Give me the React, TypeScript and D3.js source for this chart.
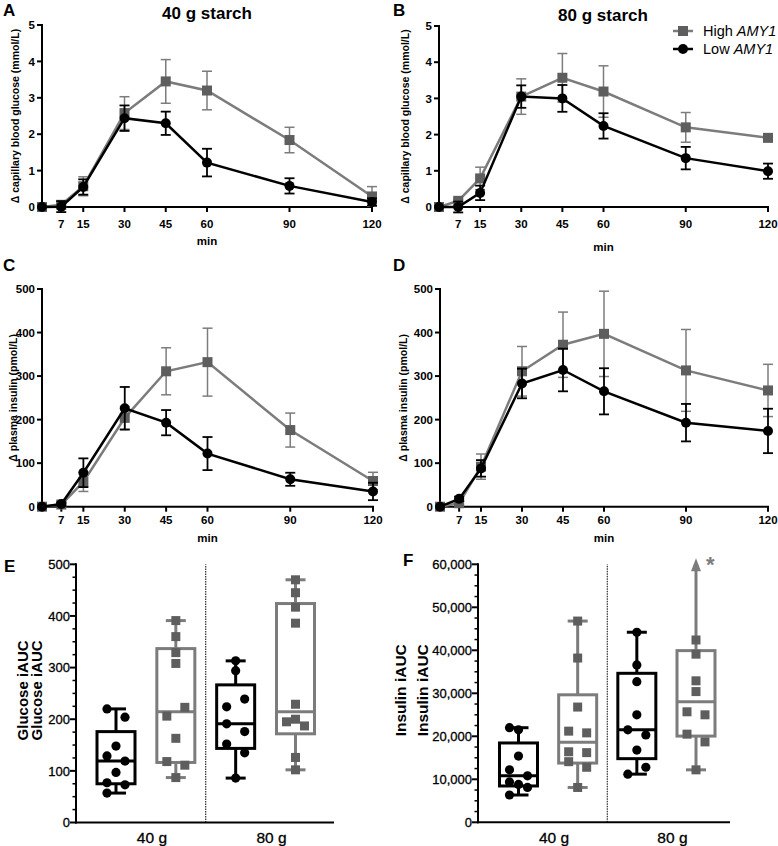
import React from 'react';
import * as d3 from 'd3';

// ---------- Data ----------
const times = [0, 7, 15, 30, 45, 60, 90, 120];
const timeTickLabels = [7, 15, 30, 45, 60, 90, 120];

// Panel A: 40 g starch, glucose (mmol/L)
const glu40High = [0, 0.06, 0.57, 2.58, 3.45, 3.2, 1.84, 0.29];
const glu40HighSem = [0, 0.04, 0.26, 0.45, 0.6, 0.53, 0.35, 0.27];
const glu40Low = [0, 0.01, 0.55, 2.44, 2.3, 1.22, 0.58, 0.14];
const glu40LowSem = [0, 0.15, 0.21, 0.35, 0.32, 0.38, 0.21, 0.1];

// Panel B: 80 g starch, glucose
const glu80High = [0, 0.17, 0.79, 3.05, 3.57, 3.19, 2.2, 1.91];
const glu80HighSem = [0, 0.04, 0.31, 0.49, 0.67, 0.71, 0.41, 0.05];
const glu80Low = [0, 0.0, 0.39, 3.05, 3.0, 2.24, 1.35, 0.99];
const glu80LowSem = [0, 0.15, 0.2, 0.31, 0.37, 0.35, 0.31, 0.21];

// Panel C: 40 g starch, insulin (pmol/L)
const ins40High = [0, 5, 57, 204, 311, 332, 176, 59];
const ins40HighSem = [0, 3, 22, 26, 54, 78, 39, 20];
const ins40Low = [0, 6, 78, 226, 193, 122, 63, 35];
const ins40LowSem = [0, 4, 33, 49, 29, 38, 15, 20];

// Panel D: 80 g starch, insulin
const ins80High = [0, 8, 92, 311, 372, 397, 313, 267];
const ins80HighSem = [0, 4, 29, 57, 75, 98, 94, 60];
const ins80Low = [0, 18, 88, 283, 314, 265, 193, 174];
const ins80LowSem = [0, 5, 19, 34, 49, 53, 43, 51];

// Panel E: glucose iAUC
const gluAucLow40 = [220, 204, 148, 129, 119, 97, 77, 73, 57];
const gluAucHigh40 = [391, 360, 329, 308, 223, 206, 163, 118, 111, 87];
const gluAucLow80 = [313, 294, 239, 224, 191, 176, 152, 135, 86];
const gluAucHigh80 = [470, 445, 417, 386, 229, 200, 195, 187, 126, 102];
const jitGluLow40 = [-1, 1, 0, -1, 1, 0, -1, 1, -1];
const jitGluHigh40 = [0, 0, 0, 0, 1, -1, 0, -1, 1, 0];
const jitGluLow80 = [0, 0, 1, -1, -1, 1, -1, 1, 0];
const jitGluHigh80 = [0, 0, 0, 0, 0, 0, -1, 1, 0, 0];

// Panel F: insulin iAUC (first High 80 g value is off-scale)
const insAucLow40 = [22000, 21500, 15400, 12200, 10800, 9400, 8800, 8100, 6350];
const insAucHigh40 = [46800, 38200, 26800, 21200, 20800, 16400, 16200, 14100, 12800, 8100];
const insAucLow80 = [44200, 36600, 32700, 25000, 21500, 20300, 16800, 12800, 11200];
const insAucHigh80 = [72000, 42400, 39100, 32900, 30400, 25700, 25000, 20500, 18700, 12200];
const jitInsLow40 = [-1, 0, 0, -1, 1, -1, 0, 1, -1];
const jitInsHigh40 = [0, 0, 0, -1, 1, -1, 1, -1, 1, 0];
const jitInsLow80 = [0, 0, 0, 0, -1, 1, 0, 1, -1];
const jitInsHigh80 = [0, 0, 0, 0, 0, -1, 1, -1, 1, 0];

const doseCategories = ['40 g', '80 g'];
const seriesNames = ['High', 'Low'];

// ---------- Style ----------
const FONT = '"Liberation Sans", Arial, Helvetica, sans-serif';
const GRAY_LINE = '#7c7c7c';
const GRAY_MARK = '#5e5e5e';
const BLACK = '#000';

type LineProps = {
  xr: [number, number];
  yr: [number, number];
  yMax: number;
  yTicks: number[];
  high: number[];
  highSem: number[];
  low: number[];
  lowSem: number[];
  yLabel: string;
  yLabelX: number;
  letter?: string;
  letterPos?: [number, number];
  title?: string;
  titlePos?: [number, number];
  minY: number;
  tickLabelY: number;
  legend?: boolean;
};

function LinePanel(p: LineProps) {
  const x = d3.scaleLinear().domain([0, 120]).range(p.xr);
  const y = d3.scaleLinear().domain([0, p.yMax]).range(p.yr);
  const line = d3
    .line<number>()
    .x((_, i) => x(times[i]))
    .y((d) => y(d));
  const cap = 5;
  const errBars = (vals: number[], sems: number[], color: string, w: number) =>
    vals.map((v, i) =>
      sems[i] > 0 ? (
        <g key={i} stroke={color} strokeWidth={w}>
          <line x1={x(times[i])} x2={x(times[i])} y1={y(v - sems[i])} y2={y(v + sems[i])} />
          <line x1={x(times[i]) - cap} x2={x(times[i]) + cap} y1={y(v + sems[i])} y2={y(v + sems[i])} />
          <line x1={x(times[i]) - cap} x2={x(times[i]) + cap} y1={y(v - sems[i])} y2={y(v - sems[i])} />
        </g>
      ) : null
    );
  const yMid = (p.yr[0] + p.yr[1]) / 2;
  return (
    <g fontFamily={FONT}>
      {p.letter && p.letterPos && (
        <text x={p.letterPos[0]} y={p.letterPos[1]} fontSize={17} fontWeight="bold">
          {p.letter}
        </text>
      )}
      {p.title && p.titlePos && (
        <text x={p.titlePos[0]} y={p.titlePos[1]} fontSize={17} fontWeight="bold" textAnchor="middle">
          {p.title}
        </text>
      )}
      {/* axes */}
      <line x1={p.xr[0]} x2={p.xr[0]} y1={p.yr[0] + 1} y2={p.yr[1] - 1} stroke={BLACK} strokeWidth={2} />
      <line x1={p.xr[0] - 1} x2={p.xr[1] + 1} y1={p.yr[0]} y2={p.yr[0]} stroke={BLACK} strokeWidth={2} />
      {p.yTicks.map((t) => (
        <g key={t}>
          <line x1={p.xr[0] - 5} x2={p.xr[0]} y1={y(t)} y2={y(t)} stroke={BLACK} strokeWidth={2} />
          <text x={p.xr[0] - 7} y={y(t)} dy="0.36em" fontSize={11.5} fontWeight="bold" textAnchor="end">
            {t}
          </text>
        </g>
      ))}
      {timeTickLabels.map((t) => (
        <g key={t}>
          <line x1={x(t)} x2={x(t)} y1={p.yr[0]} y2={p.yr[0] + 5} stroke={BLACK} strokeWidth={2} />
          <text x={x(t)} y={p.tickLabelY} dy="0.36em" fontSize={11.5} fontWeight="bold" textAnchor="middle">
            {t}
          </text>
        </g>
      ))}
      <text x={(p.xr[0] + p.xr[1]) / 2} y={p.minY} dy="0.36em" fontSize={11.5} fontWeight="bold" textAnchor="middle">
        min
      </text>
      <text
        transform={`translate(${p.yLabelX},${yMid}) rotate(-90)`}
        fontSize={10.5}
        fontWeight="bold"
        textAnchor="middle"
        dy="0.36em"
      >
        {p.yLabel}
      </text>
      {/* High series */}
      <path d={line(p.high) || ''} fill="none" stroke={GRAY_LINE} strokeWidth={2.5} />
      {errBars(p.high, p.highSem, GRAY_LINE, 1.5)}
      {p.high.map((v, i) => (
        <rect key={i} x={x(times[i]) - 5} y={y(v) - 5} width={10} height={10} fill={GRAY_MARK} />
      ))}
      {/* Low series */}
      <path d={line(p.low) || ''} fill="none" stroke={BLACK} strokeWidth={2.5} />
      {errBars(p.low, p.lowSem, BLACK, 1.8)}
      {p.low.map((v, i) => (
        <circle key={i} cx={x(times[i])} cy={y(v)} r={5} fill={BLACK} />
      ))}
      {p.legend && (
        <g fontSize={14.5}>
          <line x1={673} x2={693} y1={31} y2={31} stroke={GRAY_LINE} strokeWidth={2.5} />
          <rect x={678} y={26} width={10} height={10} fill={GRAY_MARK} />
          <text x={703} y={31} dy="0.36em">
            {seriesNames[0]} <tspan fontStyle="italic">AMY1</tspan>
          </text>
          <line x1={673} x2={693} y1={49} y2={49} stroke={BLACK} strokeWidth={2.5} />
          <circle cx={683} cy={49} r={5} fill={BLACK} />
          <text x={703} y={49} dy="0.36em">
            {seriesNames[1]} <tspan fontStyle="italic">AMY1</tspan>
          </text>
        </g>
      )}
    </g>
  );
}

// GraphPad style quantile ((n+1) method)
function gq(sorted: number[], p: number) {
  const n = sorted.length;
  const pos = p * (n + 1);
  if (pos <= 1) return sorted[0];
  if (pos >= n) return sorted[n - 1];
  const lo = Math.floor(pos);
  return sorted[lo - 1] + (pos - lo) * (sorted[lo] - sorted[lo - 1]);
}

type BoxProps = {
  axisX: number;
  axisEnd: number;
  yr: [number, number];
  yMax: number;
  major: number;
  minor: number;
  fmt: (v: number) => string;
  centers: [number, number];
  groups: number[][];
  jitters: number[][];
  letter: string;
  letterPos: [number, number];
  yLabel: string;
  yLabelXs: [number, number];
  yLabelSize: number;
  star?: boolean;
};

function BoxPanel(p: BoxProps) {
  const y = d3.scaleLinear().domain([0, p.yMax]).range(p.yr);
  const xp = d3.scalePoint<number>().domain([0, 1, 2, 3]).range(p.centers);
  const majors = d3.range(0, p.yMax + 1, p.major);
  const minors = d3.range(0, p.yMax + 1, p.minor).filter((v) => v % p.major !== 0);
  const divider = ((xp(1) as number) + (xp(2) as number)) / 2;
  const boxW = 38;
  const capW = 20;
  const jit = 9;
  const yMid = (p.yr[0] + p.yr[1]) / 2;
  return (
    <g fontFamily={FONT}>
      <text x={p.letterPos[0]} y={p.letterPos[1]} fontSize={17} fontWeight="bold">
        {p.letter}
      </text>
      {p.yLabelXs.map((lx, k) => (
        <text
          key={k}
          transform={`translate(${lx},${yMid - 3}) rotate(-90)`}
          fontSize={p.yLabelSize}
          fontWeight="bold"
          textAnchor="middle"
          dy="0.36em"
        >
          {p.yLabel}
        </text>
      ))}
      <line x1={p.axisX} x2={p.axisX} y1={p.yr[0] + 1} y2={p.yr[1] - 1} stroke={BLACK} strokeWidth={2} />
      <line x1={p.axisX - 1} x2={p.axisEnd} y1={p.yr[0]} y2={p.yr[0]} stroke={BLACK} strokeWidth={2} />
      {majors.map((t) => (
        <g key={t}>
          <line x1={p.axisX - 6} x2={p.axisX} y1={y(t)} y2={y(t)} stroke={BLACK} strokeWidth={2} />
          <text
            x={p.axisX - 6}
            y={y(t)}
            dy="0.36em"
            fontSize={13}
            textAnchor="end"
            stroke={BLACK}
            strokeWidth={0.3}
          >
            {p.fmt(t)}
          </text>
        </g>
      ))}
      {minors.map((t) => (
        <line key={t} x1={p.axisX - 3.5} x2={p.axisX} y1={y(t)} y2={y(t)} stroke={BLACK} strokeWidth={1.5} />
      ))}
      <line x1={divider} x2={divider} y1={p.yr[0]} y2={p.yr[1]} stroke={BLACK} strokeWidth={1} strokeDasharray="1.5,1" />
      {doseCategories.map((c, k) => (
        <text
          key={c}
          x={((xp(2 * k) as number) + (xp(2 * k + 1) as number)) / 2 + 6}
          y={p.yr[0] + 15}
          dy="0.36em"
          fontSize={15.5}
          textAnchor="middle"
          stroke={BLACK}
          strokeWidth={0.3}
        >
          {c}
        </text>
      ))}
      {p.groups.map((vals, gi) => {
        const isHigh = gi % 2 === 1;
        const col = isHigh ? GRAY_LINE : BLACK;
        const mcol = isHigh ? GRAY_MARK : BLACK;
        const cx = xp(gi) as number;
        const s = [...vals].sort((a, b) => a - b);
        const q1 = gq(s, 0.25);
        const med = gq(s, 0.5);
        const q3 = gq(s, 0.75);
        const mn = s[0];
        const mx = s[s.length - 1];
        const clipped = mx > p.yMax;
        const topY = clipped ? y(p.yMax) + 6 : y(mx);
        return (
          <g key={gi}>
            <line x1={cx} x2={cx} y1={y(q3)} y2={topY} stroke={col} strokeWidth={3} />
            <line x1={cx} x2={cx} y1={y(q1)} y2={y(mn)} stroke={col} strokeWidth={3} />
            {!clipped && <line x1={cx - capW / 2} x2={cx + capW / 2} y1={y(mx)} y2={y(mx)} stroke={col} strokeWidth={3} />}
            <line x1={cx - capW / 2} x2={cx + capW / 2} y1={y(mn)} y2={y(mn)} stroke={col} strokeWidth={3} />
            {clipped && (
              <>
                <path
                  d={`M${cx - 5},${y(p.yMax) + 7} L${cx + 5},${y(p.yMax) + 7} L${cx},${y(p.yMax) - 6} Z`}
                  fill={col}
                />
                {p.star && (
                  <text x={cx + 10} y={y(p.yMax) + 8} fontSize={22} fontWeight="bold" fill={col}>
                    *
                  </text>
                )}
              </>
            )}
            <rect
              x={cx - boxW / 2}
              y={y(q3)}
              width={boxW}
              height={y(q1) - y(q3)}
              fill="none"
              stroke={col}
              strokeWidth={3}
            />
            <line x1={cx - boxW / 2} x2={cx + boxW / 2} y1={y(med)} y2={y(med)} stroke={col} strokeWidth={3} />
            {vals.map((v, i) => {
              if (v > p.yMax) return null;
              const px = cx + p.jitters[gi][i] * jit;
              return isHigh ? (
                <rect key={i} x={px - 4.5} y={y(v) - 4.5} width={9} height={9} fill={mcol} />
              ) : (
                <circle key={i} cx={px} cy={y(v)} r={4.6} fill={mcol} />
              );
            })}
          </g>
        );
      })}
    </g>
  );
}

export default function App() {
  const fmtInt = (v: number) => String(v);
  const fmtComma = d3.format(',');
  return (
    <svg
      width={778}
      height={846}
      viewBox="0 0 778 846"
      style={{ position: 'absolute', left: 0, top: 0, background: '#fff' }}
    >
      <rect width={778} height={846} fill="#fff" />
      <LinePanel
        xr={[42, 372]}
        yr={[207, 25]}
        yMax={5}
        yTicks={[0, 1, 2, 3, 4, 5]}
        high={glu40High}
        highSem={glu40HighSem}
        low={glu40Low}
        lowSem={glu40LowSem}
        yLabel="Δ capillary blood glucose (mmol/L)"
        yLabelX={15}
        letter="A"
        letterPos={[3, 16]}
        title="40 g starch"
        titlePos={[207, 19]}
        minY={241}
        tickLabelY={224}
      />
      <LinePanel
        xr={[439, 768]}
        yr={[207, 26]}
        yMax={5}
        yTicks={[0, 1, 2, 3, 4, 5]}
        high={glu80High}
        highSem={glu80HighSem}
        low={glu80Low}
        lowSem={glu80LowSem}
        yLabel="Δ capillary blood glucose (mmol/L)"
        yLabelX={405}
        letter="B"
        letterPos={[393, 16]}
        title="80 g starch"
        titlePos={[603, 21]}
        minY={247}
        tickLabelY={224}
        legend
      />
      <LinePanel
        xr={[42, 373]}
        yr={[506.7, 289]}
        yMax={500}
        yTicks={[0, 100, 200, 300, 400, 500]}
        high={ins40High}
        highSem={ins40HighSem}
        low={ins40Low}
        lowSem={ins40LowSem}
        yLabel="Δ plasma insulin (pmol/L)"
        yLabelX={13}
        letter="C"
        letterPos={[3, 271]}
        minY={538}
        tickLabelY={519.5}
      />
      <LinePanel
        xr={[440, 768]}
        yr={[506.7, 289]}
        yMax={500}
        yTicks={[0, 100, 200, 300, 400, 500]}
        high={ins80High}
        highSem={ins80HighSem}
        low={ins80Low}
        lowSem={ins80LowSem}
        yLabel="Δ plasma insulin (pmol/L)"
        yLabelX={403}
        letter="D"
        letterPos={[393, 271]}
        minY={538}
        tickLabelY={519.5}
      />
      <BoxPanel
        axisX={76}
        axisEnd={334}
        yr={[822.5, 564.3]}
        yMax={500}
        major={100}
        minor={25}
        fmt={fmtInt}
        centers={[116, 295.5]}
        groups={[gluAucLow40, gluAucHigh40, gluAucLow80, gluAucHigh80]}
        jitters={[jitGluLow40, jitGluHigh40, jitGluLow80, jitGluHigh80]}
        letter="E"
        letterPos={[4, 572]}
        yLabel="Glucose iAUC"
        yLabelXs={[23, 37]}
        yLabelSize={15}
      />
      <BoxPanel
        axisX={478}
        axisEnd={730}
        yr={[822.3, 564.3]}
        yMax={60000}
        major={10000}
        minor={2500}
        fmt={fmtComma}
        centers={[518.5, 696]}
        groups={[insAucLow40, insAucHigh40, insAucLow80, insAucHigh80]}
        jitters={[jitInsLow40, jitInsHigh40, jitInsLow80, jitInsHigh80]}
        letter="F"
        letterPos={[403, 566]}
        yLabel="Insulin iAUC"
        yLabelXs={[400, 422]}
        yLabelSize={15.5}
        star
      />
    </svg>
  );
}
